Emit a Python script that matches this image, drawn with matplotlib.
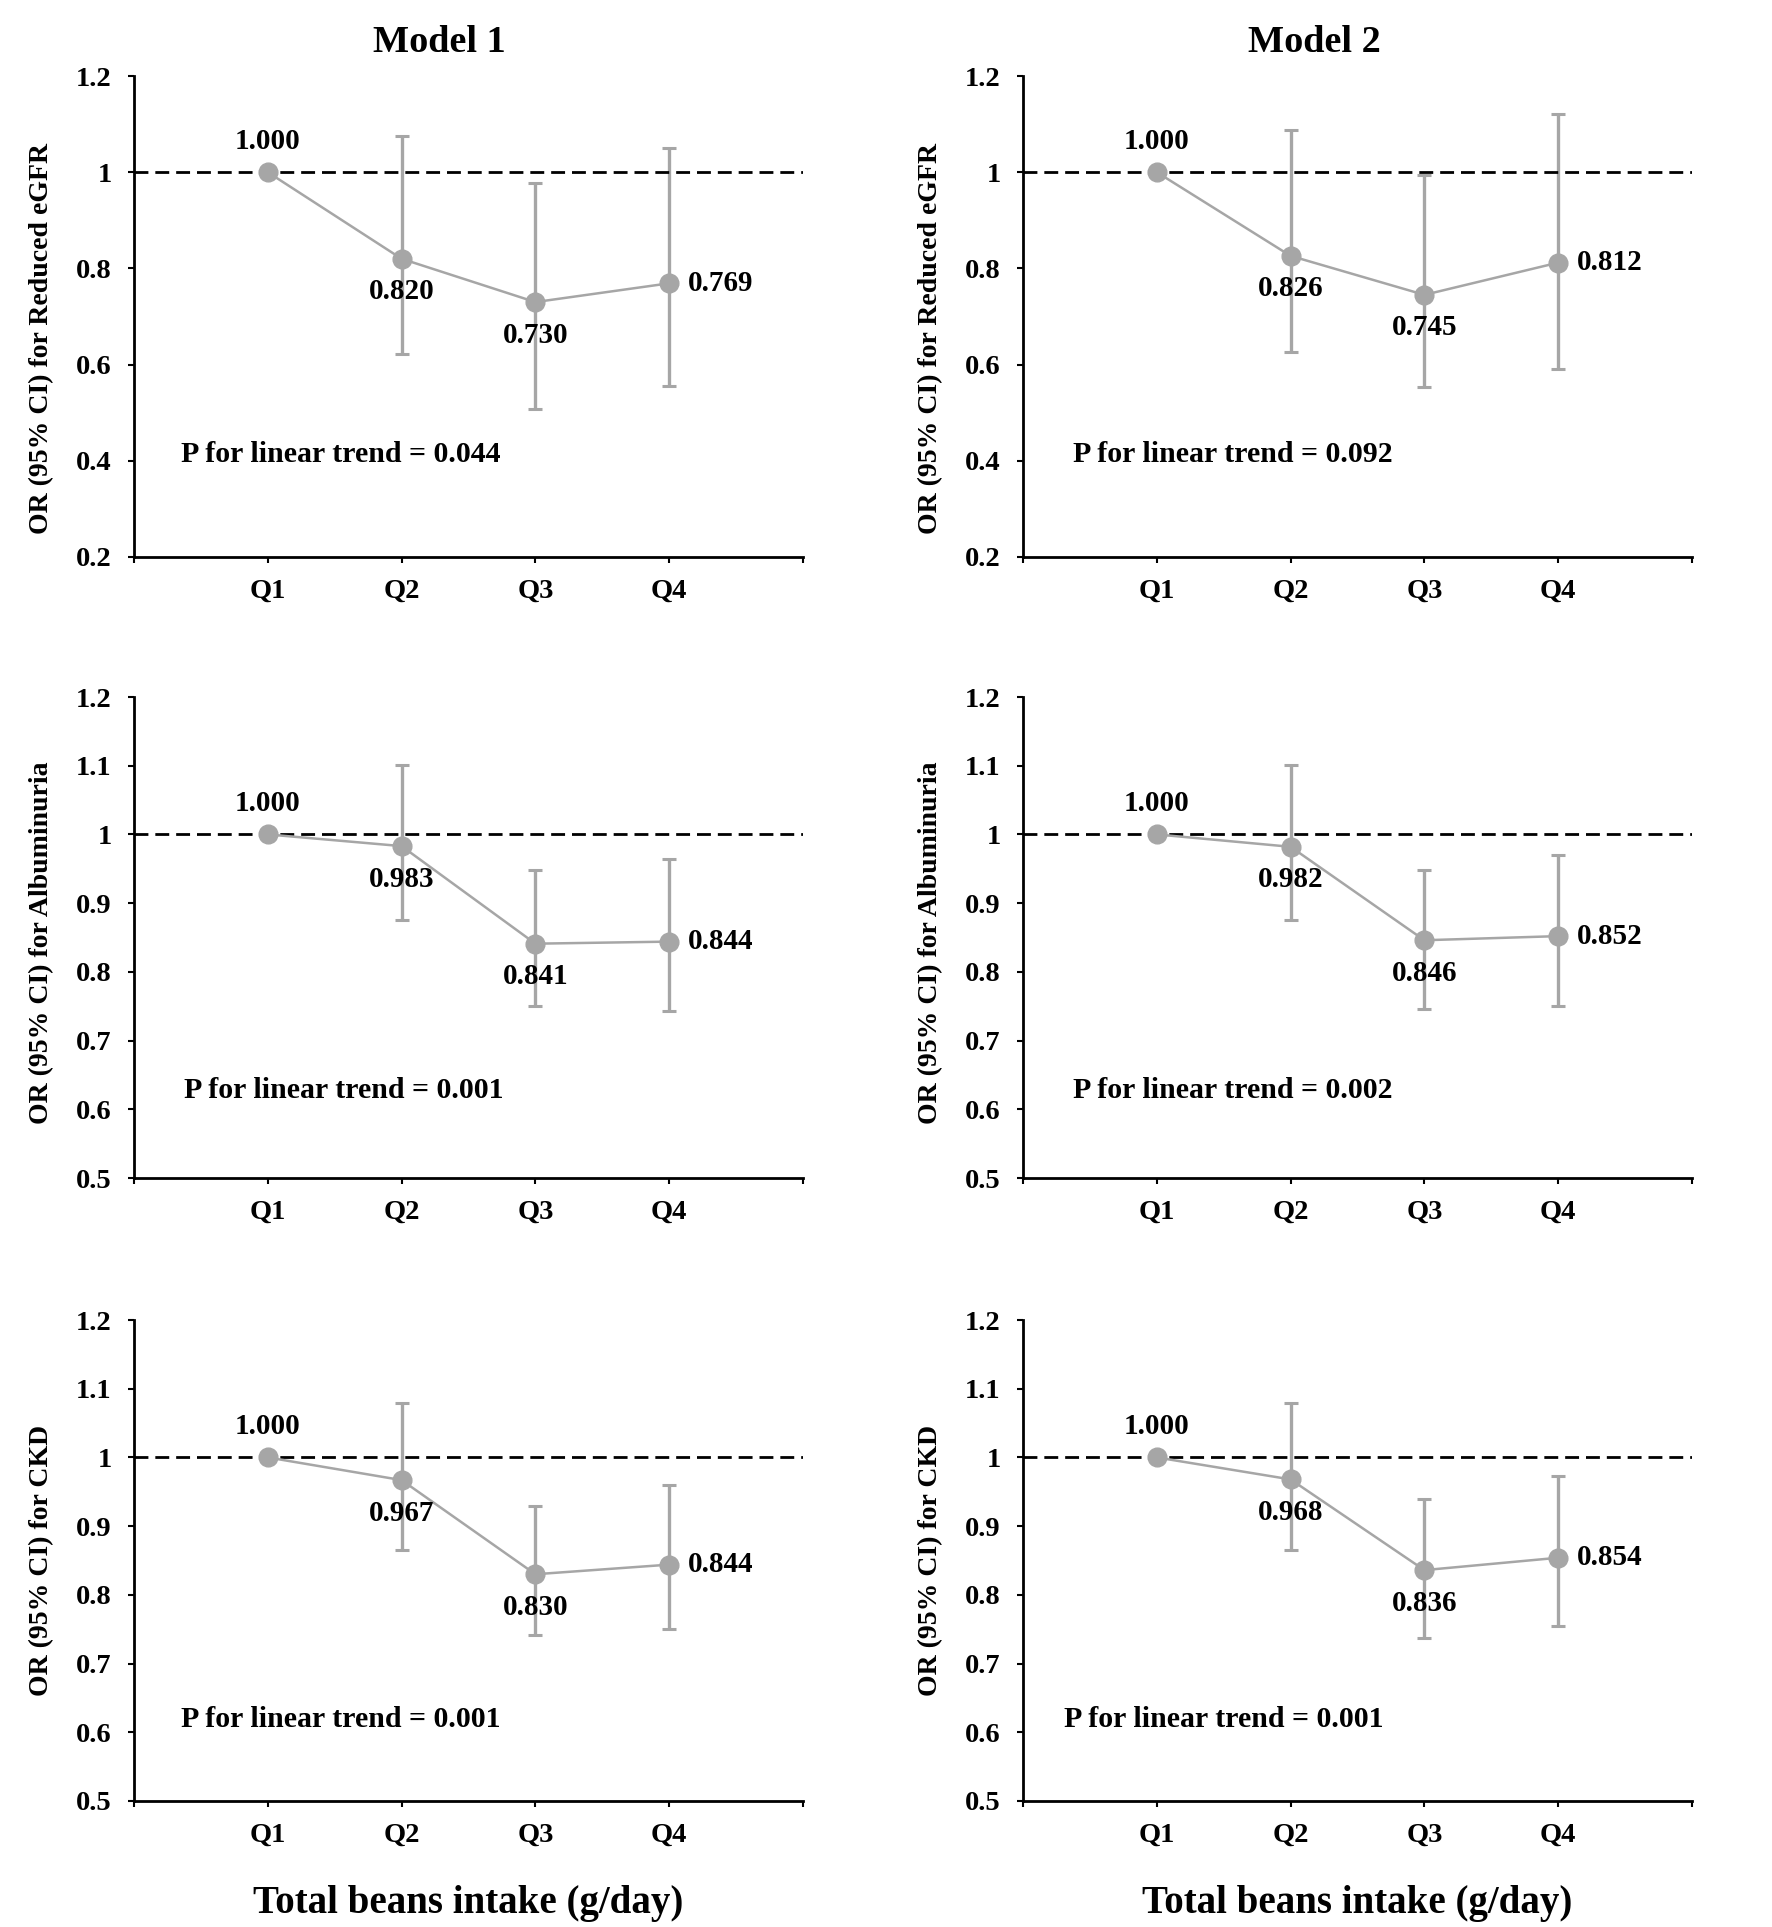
import numpy as np
import matplotlib
matplotlib.use("Agg")
import matplotlib.pyplot as plt
from matplotlib.ticker import FixedLocator, FuncFormatter

plt.rcParams['font.family'] = ['Liberation Serif', 'DejaVu Serif']
plt.rcParams['font.weight'] = 'bold'

nan = np.nan
quartiles = ["Q1", "Q2", "Q3", "Q4"]
models = ["Model 1", "Model 2"]
outcomes = ["Reduced eGFR", "Albuminuria", "CKD"]

m1_egfr_or = [1.000, 0.820, 0.730, 0.769]
m1_egfr_lo = [nan, 0.623, 0.508, 0.556]
m1_egfr_hi = [nan, 1.075, 0.977, 1.050]
m2_egfr_or = [1.000, 0.826, 0.745, 0.812]
m2_egfr_lo = [nan, 0.627, 0.553, 0.590]
m2_egfr_hi = [nan, 1.087, 0.995, 1.122]

m1_alb_or = [1.000, 0.983, 0.841, 0.844]
m1_alb_lo = [nan, 0.876, 0.750, 0.743]
m1_alb_hi = [nan, 1.101, 0.948, 0.964]
m2_alb_or = [1.000, 0.982, 0.846, 0.852]
m2_alb_lo = [nan, 0.876, 0.746, 0.751]
m2_alb_hi = [nan, 1.101, 0.948, 0.970]

m1_ckd_or = [1.000, 0.967, 0.830, 0.844]
m1_ckd_lo = [nan, 0.866, 0.741, 0.750]
m1_ckd_hi = [nan, 1.079, 0.930, 0.960]
m2_ckd_or = [1.000, 0.968, 0.836, 0.854]
m2_ckd_lo = [nan, 0.866, 0.737, 0.754]
m2_ckd_hi = [nan, 1.079, 0.940, 0.973]

p_trend = [["0.044", "0.092"], ["0.001", "0.002"], ["0.001", "0.001"]]
y_ranges = [(0.2, 1.2, 0.2), (0.5, 1.2, 0.1), (0.5, 1.2, 0.1)]
# label placement: 'above', 'below', 'right' per quartile
label_pos = ["above", "below", "below", "right"]

data = [
    [(m1_egfr_or, m1_egfr_lo, m1_egfr_hi), (m2_egfr_or, m2_egfr_lo, m2_egfr_hi)],
    [(m1_alb_or, m1_alb_lo, m1_alb_hi), (m2_alb_or, m2_alb_lo, m2_alb_hi)],
    [(m1_ckd_or, m1_ckd_lo, m1_ckd_hi), (m2_ckd_or, m2_ckd_lo, m2_ckd_hi)],
]
p_text_pos = [[(0.35, 0.414), (0.37, 0.414)],
              [(0.37, 0.627), (0.37, 0.627)],
              [(0.35, 0.618), (0.31, 0.618)]]

W, H = 1772, 1927
fig = plt.figure(figsize=(W / 100, H / 100), dpi=100)

grey = "#A6A6A6"
lefts = [134 / W, 1023 / W]
width = 669 / W
bottoms = [1 - 557 / H, 1 - 1178 / H, 1 - 1801 / H]
height = 481 / H
ylabel_y = [0.455, 0.49, 0.5]

for r in range(3):
    for c in range(2):
        ax = fig.add_axes([lefts[c], bottoms[r], width, height])
        or_, lo, hi = [np.array(a, dtype=float) for a in data[r][c]]
        x = np.arange(1, 5)
        m = ~np.isnan(lo)
        ax.errorbar(x[m], or_[m], yerr=[or_[m] - lo[m], hi[m] - or_[m]],
                    fmt='none', ecolor=grey, elinewidth=2.4, capsize=4.7,
                    capthick=2.2, zorder=2)
        ax.axhline(1.0, color='black', lw=2, ls=(0, (5, 2.5)), zorder=2.5)
        ax.plot(x, or_, color=grey, lw=1.8, marker='o', markersize=13.5,
                markerfacecolor=grey, markeredgecolor=grey, zorder=3)
        for i in range(4):
            txt = f"{or_[i]:.3f}"
            pos = label_pos[i]
            if pos == "above":
                off, ha = (0, 31), 'center'
            elif pos == "below":
                off, ha = (0, -33), 'center'
            else:
                off, ha = (19, 0), 'left'
            ax.annotate(txt, (x[i], or_[i]), xytext=off, textcoords='offset pixels',
                        ha=ha, va='center', fontsize=21, fontweight='bold', zorder=5)
        px, py = p_text_pos[r][c]
        ax.text(px, py, f"P for linear trend = {p_trend[r][c]}", ha='left', va='center',
                fontsize=21.5, fontweight='bold')

        ymin, ymax, step = y_ranges[r]
        ax.set_xlim(0, 5)
        ax.set_ylim(ymin, ymax)
        yt = np.round(np.arange(ymin, ymax + step / 2, step), 2)
        ax.yaxis.set_major_locator(FixedLocator(yt))
        ax.yaxis.set_major_formatter(FuncFormatter(lambda v, p: f"{round(v, 2):g}"))
        ax.set_xticks(np.arange(0, 6))
        ax.set_xticklabels([""] + quartiles + [""])
        for s in ['top', 'right']:
            ax.spines[s].set_visible(False)
        for s in ['left', 'bottom']:
            ax.spines[s].set_linewidth(2)
            ax.spines[s].set_color('black')
        ax.tick_params(axis='y', direction='out', length=4, width=1.5, pad=12, labelsize=20.5)
        ax.tick_params(axis='x', direction='out', length=4.5, width=1.5, pad=11, labelsize=20.5)
        for lab in ax.get_xticklabels() + ax.get_yticklabels():
            lab.set_fontweight('bold')
        ax.set_ylabel(f"OR (95% CI) for {outcomes[r]}", fontsize=20, fontweight='bold')
        ax.yaxis.label.set_verticalalignment('center')
        ax.yaxis.set_label_coords(-0.1375, ylabel_y[r])
        if r == 2:
            ax.set_xlabel("Total beans intake (g/day)", fontsize=28, fontweight='bold',
                          labelpad=0)
            ax.xaxis.label.set_verticalalignment('center')
            ax.xaxis.set_label_coords(0.5, -(1904 - 1801) / 481)

fig.text(439 / W, 1 - 42 / H, models[0], ha='center', va='center', fontsize=27.5, fontweight='bold')
fig.text(1314 / W, 1 - 42 / H, models[1], ha='center', va='center', fontsize=27.5, fontweight='bold')

fig.savefig("out.png", dpi=100, facecolor='white')
